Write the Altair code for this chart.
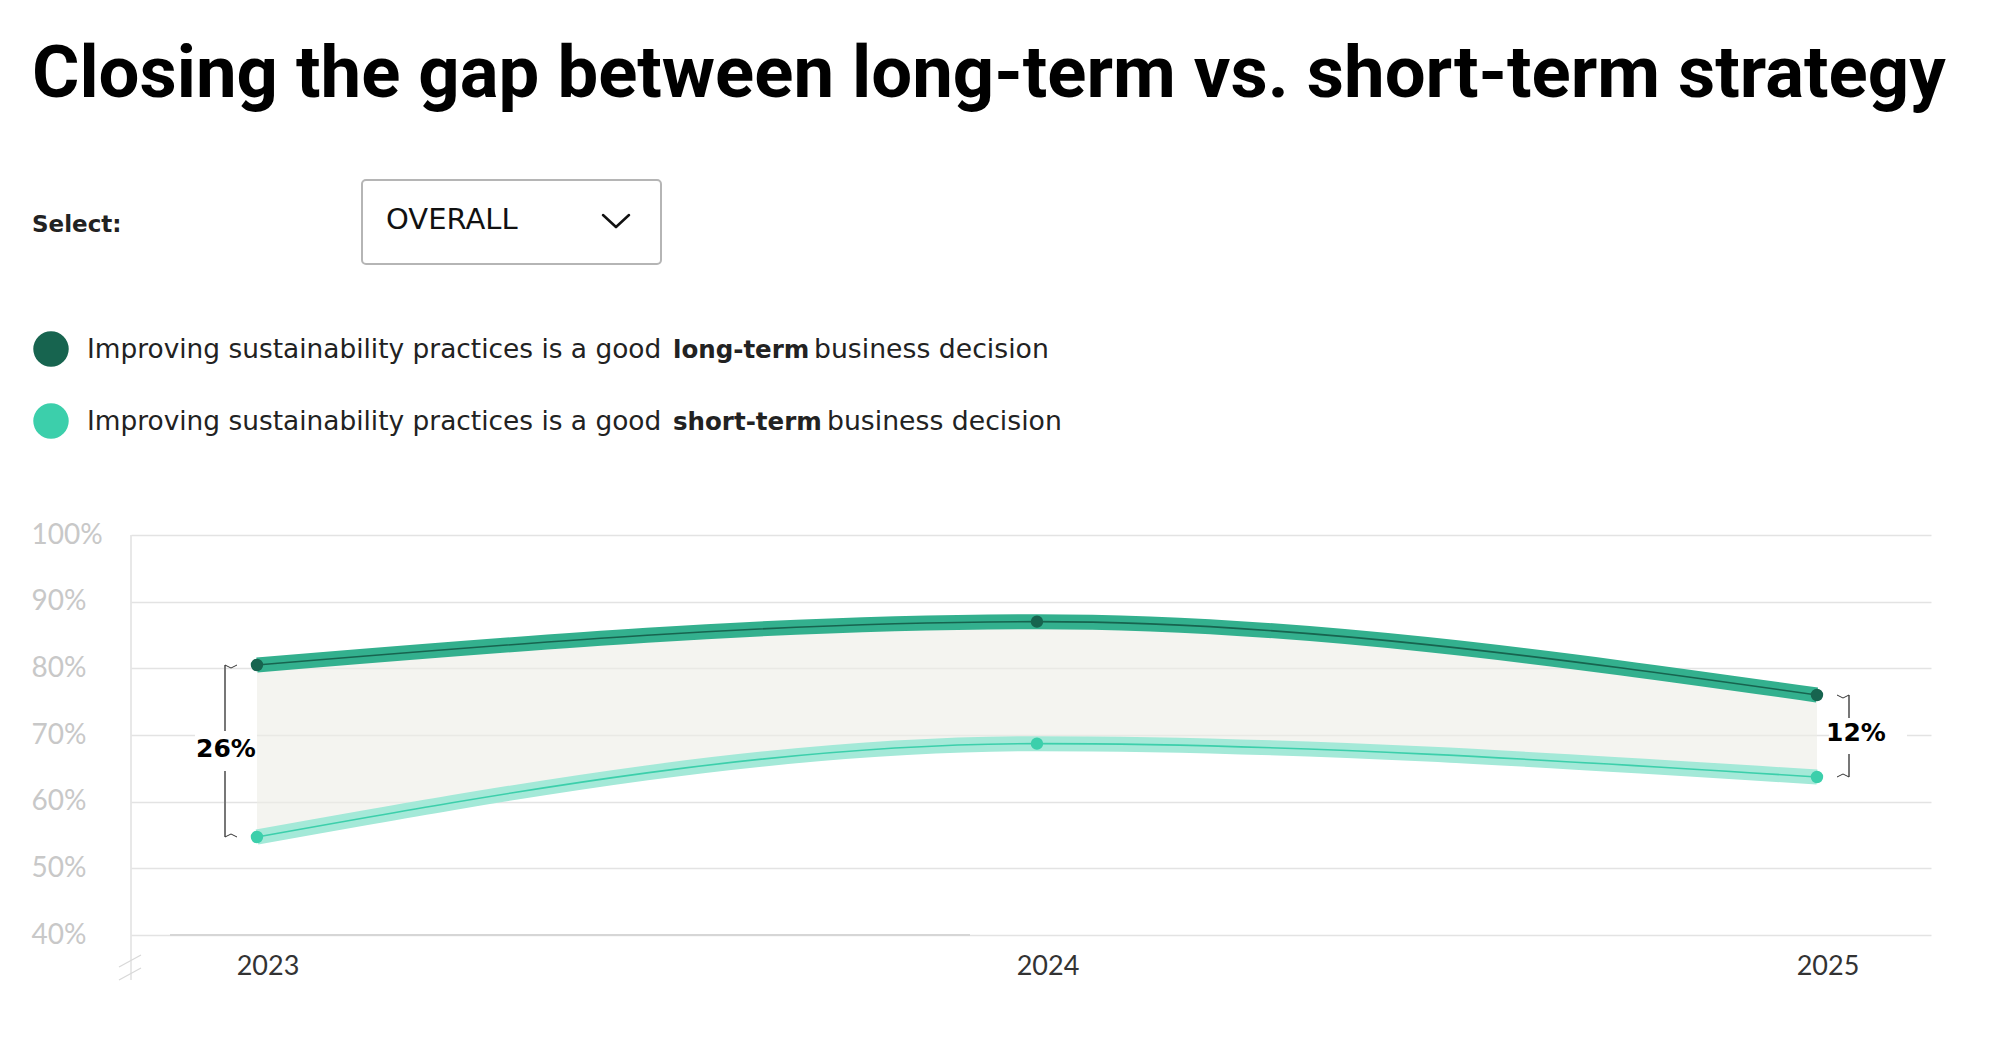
import altair as alt
import pandas as pd

# ---------------- data ----------------
years = [2023, 2024, 2025]
year_labels = ["2023", "2024", "2025"]
long_term = [80.5, 87.0, 76.0]
short_term = [54.7, 68.7, 63.7]
y_ticks = [40, 50, 60, 70, 80, 90, 100]

title_text = "Closing the gap between long-term vs. short-term strategy"
select_label = "Select:"
dropdown_value = "OVERALL"
legend_prefix = "Improving sustainability practices is a good "
legend_bold = ["long-term", "short-term"]
legend_suffix = "business decision"

# ---------------- styles ----------------
DARK = "#17644f"
LIGHT = "#3ccfab"
BAND_DARK = "#33b08e"
BAND_LIGHT = "#a4e9d8"
GRID = "#e3e3e3"

W, H = 1800, 400

wide = pd.DataFrame({"year": years, "yl": year_labels, "long": long_term, "short": short_term})
wide["gap"] = wide["long"] - wide["short"]
wide["mid"] = (wide["long"] + wide["short"]) / 2
wide["label"] = wide["gap"].round().astype(int).astype(str) + "%"

xscale = alt.Scale(domain=[2022.8385, 2025.1462], nice=False, zero=False)
yscale = alt.Scale(domain=[40, 100], nice=False, zero=False)
YAXIS = alt.Axis(values=y_ticks, labelExpr="datum.value + '%'", grid=True,
                 gridColor=GRID, gridWidth=1.5, domain=False, ticks=False,
                 tickSize=0, labelAlign="left", labelPadding=100,
                 labelFont="Lato", labelFontSize=28, labelColor="#c8c8c8",
                 labelBaseline="middle", title=None)


def X(field="year:Q"):
    return alt.X(field, scale=xscale, axis=None)


def Y(field):
    return alt.Y(field, scale=yscale, axis=YAXIS)


layers = []

# shaded gap area
layers.append(alt.Chart(wide).mark_area(interpolate="monotone", color="#eeeee6", opacity=0.62)
              .encode(x=X(), y=Y("long:Q"), y2=alt.Y2("short:Q")))

# left axis line and break marks, bottom darker line
one = pd.DataFrame({"k": [0]})
layers.append(alt.Chart(one).mark_rule(color="#e0e0e0", strokeWidth=1.5)
              .encode(x=alt.value(0), y=alt.value(0), y2=alt.value(445)))
layers.append(alt.Chart(one).mark_rule(color="#d8d8d8", strokeWidth=1.2)
              .encode(x=alt.value(-12), x2=alt.value(10), y=alt.value(432), y2=alt.value(420)))
layers.append(alt.Chart(one).mark_rule(color="#d8d8d8", strokeWidth=1.2)
              .encode(x=alt.value(-12), x2=alt.value(10), y=alt.value(445), y2=alt.value(433)))
layers.append(alt.Chart(one).mark_rule(color="#d6d6d6", strokeWidth=2)
              .encode(x=alt.value(39), x2=alt.value(839), y=alt.value(400)))

# series lines
for field, band, core in [("long", BAND_DARK, DARK), ("short", BAND_LIGHT, LIGHT)]:
    layers.append(alt.Chart(wide).mark_line(interpolate="monotone", color=band, strokeWidth=15)
                  .encode(x=X(), y=Y(f"{field}:Q")))
    layers.append(alt.Chart(wide).mark_line(interpolate="monotone", color=core, strokeWidth=1.6)
                  .encode(x=X(), y=Y(f"{field}:Q")))
    layers.append(alt.Chart(wide).mark_circle(color=core, opacity=1, size=154)
                  .encode(x=X(), y=Y(f"{field}:Q")))

# brackets
def bracket(year, xpx, dirx, box_cx, box_w, box_h, text_cx, text_dy):
    row = wide[wide["year"] == year]
    out = []
    out.append(alt.Chart(row).mark_rule(color="#777", strokeWidth=2)
               .encode(x=alt.value(xpx), y=Y("long:Q"), y2=alt.Y2("short:Q")))
    for fld, dy in [("long", 3), ("short", -3)]:
        out.append(alt.Chart(row).mark_rule(color="#333", strokeWidth=1, y2Offset=dy)
                   .encode(x=alt.value(xpx), x2=alt.value(xpx + 6 * dirx),
                           y=Y(f"{fld}:Q"), y2=alt.Y2(f"{fld}:Q")))
        out.append(alt.Chart(row).mark_rule(color="#333", strokeWidth=1, yOffset=dy)
                   .encode(x=alt.value(xpx + 6 * dirx), x2=alt.value(xpx + 12 * dirx),
                           y=Y(f"{fld}:Q"), y2=alt.Y2(f"{fld}:Q")))
    hh = box_h / box_w
    out.append(alt.Chart(row).mark_point(shape=f"M-1,-{hh:.3f}H1V{hh:.3f}H-1Z", filled=True,
                                         fill="white", opacity=1, strokeWidth=0, size=box_w ** 2)
               .encode(x=alt.value(box_cx), y=Y("mid:Q")))
    out.append(alt.Chart(row).mark_text(font="DejaVu Sans", fontWeight="bold", fontSize=25,
                                        color="#000", align="center", baseline="middle", dy=text_dy)
               .encode(x=alt.value(text_cx), y=Y("mid:Q"), text="label:N"))
    return out

layers += bracket(2023, 94, 1, 95, 62, 40, 95, -2)
layers += bracket(2025, 1718, -1, 1737, 78, 36, 1725, -3)

# x labels
layers.append(alt.Chart(wide).mark_text(font="Lato", fontSize=27, color="#333",
                                        align="center", baseline="alphabetic", dx=11)
              .encode(x=X(), y=alt.value(440), text="yl:N"))

# header texts
def txt(s, x, y, **kw):
    return alt.Chart(pd.DataFrame({"t": [s]})).mark_text(align="left", baseline="alphabetic", **kw) \
        .encode(x=alt.value(x), y=alt.value(y), text="t:N")

layers.append(txt(title_text, -99, -438, font="Roboto", fontWeight="bold", fontSize=72.5, color="#000"))
layers.append(txt(select_label, -99, -303, font="DejaVu Sans", fontWeight="bold", fontSize=23, color="#222"))
layers.append(alt.Chart(one).mark_rect(fill="white", stroke="#b5b5b5", strokeWidth=2, cornerRadius=4)
              .encode(x=alt.value(231), x2=alt.value(530), y=alt.value(-355), y2=alt.value(-271)))
layers.append(txt(dropdown_value, 255, -306, font="DejaVu Sans", fontSize=29, color="#111"))
layers.append(alt.Chart(one).mark_rule(color="#111", strokeWidth=2.5, strokeCap="round")
              .encode(x=alt.value(472), x2=alt.value(485), y=alt.value(-320), y2=alt.value(-308)))
layers.append(alt.Chart(one).mark_rule(color="#111", strokeWidth=2.5, strokeCap="round")
              .encode(x=alt.value(485), x2=alt.value(498), y=alt.value(-308), y2=alt.value(-320)))

# legend
for i, (col, bold, bx, sx) in enumerate([(DARK, legend_bold[0], 542, 683), (LIGHT, legend_bold[1], 542, 696)]):
    cy = -186 + 72 * i
    base = cy + 9
    layers.append(alt.Chart(one).mark_circle(color=col, opacity=1, size=1257)
                  .encode(x=alt.value(-80), y=alt.value(cy)))
    layers.append(txt(legend_prefix, -44, base, font="DejaVu Sans", fontSize=26.4, color="#222"))
    layers.append(txt(bold, bx, base, font="DejaVu Sans", fontWeight="bold", fontSize=24.5, color="#222"))
    layers.append(txt(legend_suffix, sx, base, font="DejaVu Sans", fontSize=26.7, color="#222"))

chart = alt.layer(*layers).properties(
    width=W, height=H,
    autosize=alt.AutoSizeParams(type="none"),
    padding={"left": 123, "top": 527, "right": 69, "bottom": 100},
).configure_view(stroke=None)

chart.save("out.html", embed_options={"renderer": "svg", "actions": False})
